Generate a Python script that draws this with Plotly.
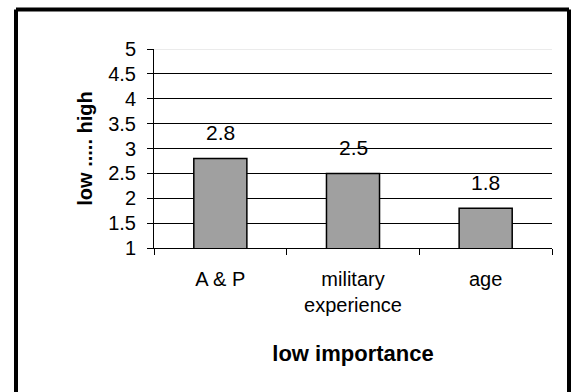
import plotly.graph_objects as go

categories = ["A & P", "military<br>experience", "age"]
values = [2.8, 2.5, 1.8]
y_tick_vals = [1, 1.5, 2, 2.5, 3, 3.5, 4, 4.5, 5]
y_tick_text = ["1", "1.5", "2", "2.5", "3", "3.5", "4", "4.5", "5"]
x_title = "low importance"
y_title = "low ..... high"

W, H = 573, 392
ML, MR, MT, MB = 154, 21, 49, 144
FONT = "Liberation Sans, Arial, sans-serif"

fig = go.Figure()
fig.add_trace(go.Bar(
    x=categories, y=values, width=0.4,
    marker=dict(color="#A0A0A0", line=dict(color="black", width=1.5)),
    showlegend=False, hoverinfo="skip",
))

for c, v in zip(categories, values):
    fig.add_annotation(x=c, y=v, text=f"{v:.1f}", showarrow=False,
                       yanchor="bottom", yshift=12,
                       font=dict(family=FONT, size=21, color="black"))

pw = W - ML - MR
ph = H - MT - MB
def px_x(p):
    return (p - ML) / pw
def px_y(p):
    return (H - MB - p) / ph

# light top gridline at the axis maximum
fig.add_shape(type="line", xref="paper", yref="y", x0=0, x1=1,
              y0=y_tick_vals[-1], y1=y_tick_vals[-1],
              line=dict(color="#E4E4E4", width=1.5), layer="above")

# outer chart border (open at bottom, cut by the page)
border = dict(color="black", width=4)
xl, xr, yt, yb = px_x(16), px_x(569), px_y(9.5), px_y(420)
fig.add_shape(type="line", xref="paper", yref="paper", x0=xl, x1=xl, y0=yb, y1=yt, line=border, layer="above")
fig.add_shape(type="line", xref="paper", yref="paper", x0=xl, x1=xr, y0=yt, y1=yt, line=border, layer="above")
fig.add_shape(type="line", xref="paper", yref="paper", x0=xr, x1=xr, y0=yb, y1=yt, line=border, layer="above")

fig.update_layout(
    width=W, height=H,
    margin=dict(l=ML, r=MR, t=MT, b=MB, pad=0),
    paper_bgcolor="white", plot_bgcolor="white",
    font=dict(family=FONT, size=20, color="black"),
    bargap=0.6,
    xaxis=dict(
        type="category", tickson="boundaries", ticks="outside", ticklen=6,
        tickcolor="black", tickwidth=1, showline=True, linecolor="black",
        linewidth=1, showgrid=False, ticklabelstandoff=13,
        tickfont=dict(family=FONT, size=20, color="black"),
        title=dict(text=f"<b>{x_title}</b>", standoff=30,
                   font=dict(family=FONT, size=22, color="black")),
    ),
    yaxis=dict(
        range=[1, 5], tickmode="array", tickvals=y_tick_vals, ticktext=y_tick_text,
        ticks="outside", ticklen=6, tickcolor="black", tickwidth=1,
        showline=True, linecolor="black", linewidth=1,
        showgrid=True, gridcolor="black", gridwidth=1, zeroline=False,
        ticklabelstandoff=7,
        tickfont=dict(family=FONT, size=20, color="black"),
        title=dict(text=f"<b>{y_title}</b>", standoff=10,
                   font=dict(family=FONT, size=20, color="black")),
    ),
)

fig.write_html("out.html", config={"displayModeBar": False},
               post_script="document.body.style.margin='0';document.body.style.overflow='hidden';")
